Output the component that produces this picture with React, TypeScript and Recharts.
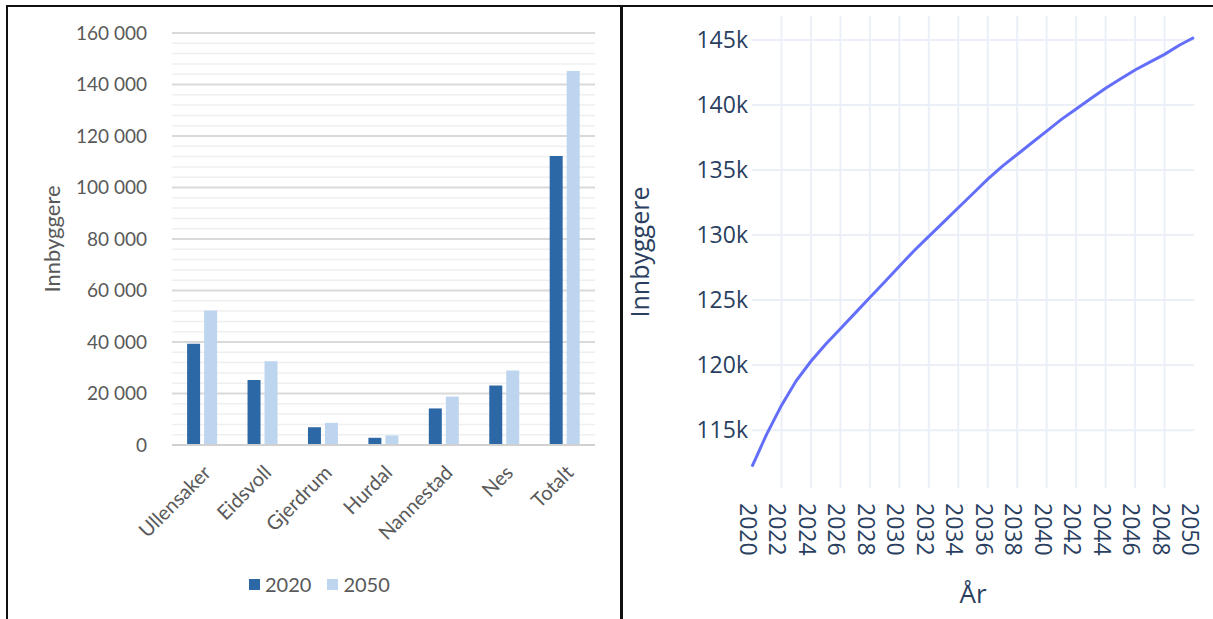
import React from "react";
import { BarChart, Bar, XAxis, YAxis, CartesianGrid, Legend, Label, LineChart, Line } from "recharts";

// venstre: innbyggere per kommune
const KOMMUNER = ["Ullensaker", "Eidsvoll", "Gjerdrum", "Hurdal", "Nannestad", "Nes", "Totalt"];
const INNBYGGERE_2020 = [39300, 25200, 6900, 2800, 14200, 23100, 112200];
const INNBYGGERE_2050 = [52200, 32500, 8600, 3700, 18800, 28900, 145200];
const BAR_TICKS = [0, 20000, 40000, 60000, 80000, 100000, 120000, 140000, 160000];
const SERIES = [
  { key: "v2020", name: "2020", color: "#2C68A6" },
  { key: "v2050", name: "2050", color: "#BDD5EE" },
];

// høyre: framskriving
const AAR = [
  2020, 2021, 2022, 2023, 2024, 2025, 2026, 2027, 2028, 2029, 2030, 2031, 2032, 2033, 2034, 2035,
  2036, 2037, 2038, 2039, 2040, 2041, 2042, 2043, 2044, 2045, 2046, 2047, 2048, 2049, 2050,
];
const FRAMSKRIVING = [
  112200, 114700, 116900, 118800, 120300, 121600, 122800, 124000, 125200, 126400, 127600, 128800,
  129900, 131000, 132100, 133200, 134300, 135300, 136200, 137100, 138000, 138900, 139700, 140500,
  141300, 142000, 142700, 143300, 143900, 144600, 145200,
];
const LINE_Y_TICKS = [115000, 120000, 125000, 130000, 135000, 140000, 145000];
const LINE_X_TICKS = [2020, 2022, 2024, 2026, 2028, 2030, 2032, 2034, 2036, 2038, 2040, 2042, 2044, 2046, 2048, 2050];

const barData = KOMMUNER.map((kommune, i) => ({
  kommune,
  v2020: INNBYGGERE_2020[i],
  v2050: INNBYGGERE_2050[i],
}));
const lineData = AAR.map((aar, i) => ({ aar, innbyggere: FRAMSKRIVING[i] }));

// lyse hjelpelinjer hver 4000
const MINOR = [] as number[];
for (let v = 4000; v < 160000; v += 4000) if (v % 20000 !== 0) MINOR.push(v);

const EXCEL_FONT = "Lato, 'Open Sans', sans-serif";
const PLOTLY_FONT = "'Open Sans', sans-serif";
const PLOTLY_TEXT = "#2a3f5f";

function thousands(v: number) {
  return String(v).replace(/\B(?=(\d{3})+(?!\d))/g, " ");
}

function KommuneTick({ x, y, payload }: any) {
  const ax = x + 10;
  const ay = y + 29;
  return (
    <text
      x={ax}
      y={ay}
      transform={`rotate(-45, ${ax}, ${ay})`}
      textAnchor="end"
      fill="#595959"
      fontSize={20}
      fontFamily={EXCEL_FONT}
    >
      {payload.value}
    </text>
  );
}

function YearTick({ x, y, payload }: any) {
  return (
    <text
      transform={`translate(${x - 12}, ${y + 15}) rotate(90)`}
      textAnchor="start"
      fill={PLOTLY_TEXT}
      fontSize={23}
      fontFamily={PLOTLY_FONT}
    >
      {payload.value}
    </text>
  );
}

function BarLegend() {
  return (
    <div style={{ display: "flex", alignItems: "center", fontFamily: EXCEL_FONT, fontSize: 20, color: "#595959" }}>
      {SERIES.map((s, i) => (
        <div key={s.key} style={{ display: "flex", alignItems: "center", marginLeft: i === 0 ? 0 : 16 }}>
          <span style={{ width: 11, height: 11, background: s.color, marginRight: 5, display: "inline-block" }} />
          <span>{s.name}</span>
        </div>
      ))}
    </div>
  );
}

function KommuneChart() {
  return (
    <BarChart
      width={620}
      height={619}
      data={barData}
      margin={{ top: 33, right: 25, left: 72, bottom: 54 }}
      barCategoryGap="25%"
      barGap={4}
    >
      <CartesianGrid vertical={false} horizontalValues={MINOR} stroke="#efefef" strokeWidth={1.5} />
      <CartesianGrid vertical={false} horizontalValues={BAR_TICKS} stroke="#d9d9d9" strokeWidth={2} />
      <XAxis
        dataKey="kommune"
        height={120}
        interval={0}
        tickLine={false}
        tickSize={0}
        tickMargin={0}
        axisLine={{ stroke: "#d0d0d0", strokeWidth: 2 }}
        tick={<KommuneTick />}
      />
      <YAxis
        width={100}
        domain={[0, 160000]}
        ticks={BAR_TICKS}
        interval={0}
        axisLine={false}
        tickLine={false}
        tickSize={0}
        tickMargin={25}
        tickFormatter={thousands}
        tick={{ fill: "#595959", fontSize: 19, fontFamily: EXCEL_FONT }}
      >
        <Label
          content={({ viewBox }: any) => (
            <text
              x={viewBox.x - 12}
              y={viewBox.y + viewBox.height / 2}
              transform={`rotate(-90, ${viewBox.x - 12}, ${viewBox.y + viewBox.height / 2})`}
              textAnchor="middle"
              fill="#595959"
              fontSize={22}
              fontFamily={EXCEL_FONT}
            >
              Innbyggere
            </text>
          )}
        />
      </YAxis>
      <Legend
        verticalAlign="middle"
        align="center"
        layout="horizontal"
        content={<BarLegend />}
        wrapperStyle={{ top: 572, left: 249, width: 160 }}
      />
      {SERIES.map((s) => (
        <Bar key={s.key} dataKey={s.key} name={s.name} fill={s.color} isAnimationActive={false} />
      ))}
    </BarChart>
  );
}

function FramskrivingChart() {
  return (
    <LineChart width={592} height={619} data={lineData} margin={{ top: 16, right: 19, left: 31, bottom: 31 }}>
      <CartesianGrid
        horizontalValues={LINE_Y_TICKS}
        verticalValues={LINE_X_TICKS.slice(1, -1)}
        stroke="#ebf0f8"
        strokeWidth={2}
      />
      <XAxis
        dataKey="aar"
        type="number"
        domain={[2020, 2050]}
        ticks={LINE_X_TICKS}
        interval={0}
        height={100}
        axisLine={false}
        tickLine={false}
        tickSize={0}
        tickMargin={0}
        tick={<YearTick />}
      >
        <Label
          content={({ viewBox }: any) => (
            <text
              x={viewBox.x + viewBox.width / 2}
              y={viewBox.y + 115}
              textAnchor="middle"
              fill={PLOTLY_TEXT}
              fontSize={26}
              fontFamily={PLOTLY_FONT}
            >
              År
            </text>
          )}
        />
      </XAxis>
      <YAxis
        width={100}
        domain={[110550, 146850]}
        ticks={LINE_Y_TICKS}
        interval={0}
        axisLine={false}
        tickLine={false}
        tickSize={0}
        tickMargin={4}
        tickFormatter={(v: number) => `${v / 1000}k`}
        tick={{ fill: PLOTLY_TEXT, fontSize: 23, fontFamily: PLOTLY_FONT }}
      >
        <Label
          content={({ viewBox }: any) => (
            <text
              x={viewBox.x - 3}
              y={viewBox.y + viewBox.height / 2}
              transform={`rotate(-90, ${viewBox.x - 3}, ${viewBox.y + viewBox.height / 2})`}
              textAnchor="middle"
              fill={PLOTLY_TEXT}
              fontSize={25}
              fontFamily={PLOTLY_FONT}
            >
              Innbyggere
            </text>
          )}
        />
      </YAxis>
      <Line
        type="linear"
        dataKey="innbyggere"
        stroke="#636efa"
        strokeWidth={3}
        dot={false}
        isAnimationActive={false}
      />
    </LineChart>
  );
}

export default function App() {
  return (
    <div style={{ position: "fixed", left: 0, top: 0, width: 1213, height: 619, background: "#fff", overflow: "hidden" }}>
      <div style={{ position: "absolute", left: 0, top: 0 }}>
        <KommuneChart />
      </div>
      <div style={{ position: "absolute", left: 621, top: 0 }}>
        <FramskrivingChart />
      </div>
      {/* rammer */}
      <div style={{ position: "absolute", left: 6, top: 5, width: 1207, height: 2, background: "#111" }} />
      <div style={{ position: "absolute", left: 6, top: 5, width: 2, height: 614, background: "#111" }} />
      <div style={{ position: "absolute", left: 620, top: 5, width: 3, height: 614, background: "#111" }} />
    </div>
  );
}
